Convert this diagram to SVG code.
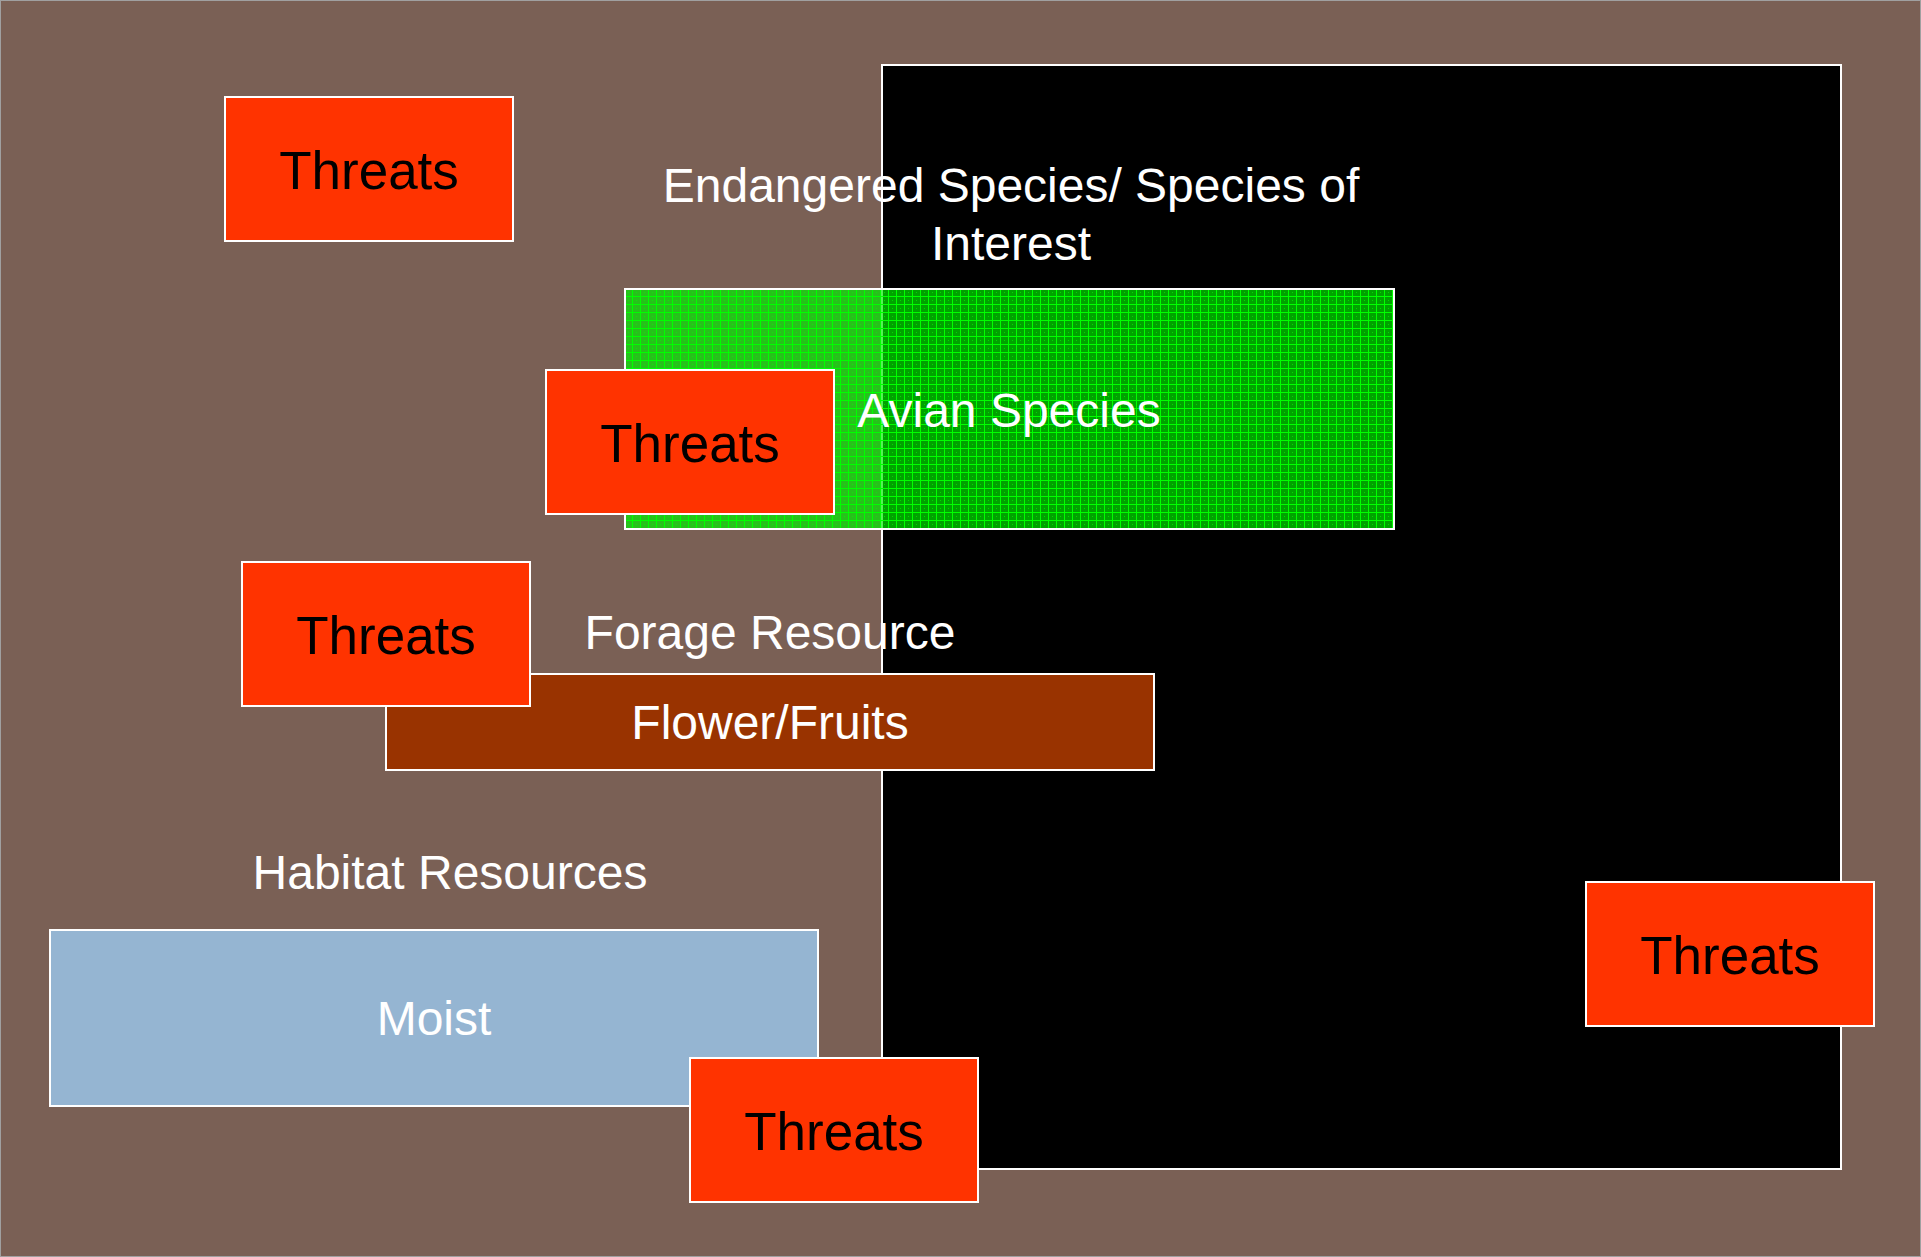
<svg xmlns="http://www.w3.org/2000/svg" width="1921" height="1257" viewBox="0 0 1921 1257">
  <style>
    .box { stroke: #ffffff; stroke-width: 2; }
    .threat { fill: #ff3300; }
    .threat-text { font-family: "Liberation Sans", Arial, sans-serif; font-size: 53px; fill: #000000; text-anchor: middle; }
    .label { font-family: "Liberation Sans", Arial, sans-serif; font-size: 48px; fill: #ffffff; text-anchor: middle; }
  </style>
  <defs>
    <pattern id="grid" width="8" height="8" patternUnits="userSpaceOnUse">
      <rect x="0" y="0" width="8" height="8" fill="#00ee00" fill-opacity="0.68"/>
      <rect x="0" y="0" width="8" height="1" fill="#00ff00"/>
      <rect x="0" y="0" width="1" height="8" fill="#00ff00"/>
      <rect x="4" y="4" width="1" height="1" fill="#00ff00" fill-opacity="0.6"/>
    </pattern>
  </defs>

  <rect id="background" x="0.5" y="0.5" width="1920" height="1256" fill="#7a6055" stroke="#a0a0a0" stroke-width="1"/>

  <g id="endangered-species">
    <rect class="box" x="882" y="65" width="959" height="1104" fill="#000000"/>
    <text class="label" x="1011" y="202">Endangered Species/ Species of</text>
    <text class="label" x="1011" y="260">Interest</text>
  </g>

  <g id="avian-species">
    <rect class="box" x="625" y="289" width="769" height="240" fill="url(#grid)"/>
    <text class="label" x="1009" y="427">Avian Species</text>
  </g>

  <g id="threats-1">
    <rect class="box threat" x="225" y="97" width="288" height="144"/>
    <text class="threat-text" x="369" y="189">Threats</text>
  </g>

  <g id="threats-2">
    <rect class="box threat" x="546" y="370" width="288" height="144"/>
    <text class="threat-text" x="690" y="462">Threats</text>
  </g>

  <g id="forage-resource">
    <text class="label" x="770" y="649">Forage Resource</text>
  </g>

  <g id="flower-fruits">
    <rect class="box" x="386" y="674" width="768" height="96" fill="#993300"/>
    <text class="label" x="770" y="739">Flower/Fruits</text>
  </g>

  <g id="threats-3">
    <rect class="box threat" x="242" y="562" width="288" height="144"/>
    <text class="threat-text" x="386" y="654">Threats</text>
  </g>

  <g id="habitat-resources">
    <text class="label" x="450" y="889">Habitat Resources</text>
  </g>

  <g id="moist">
    <rect class="box" x="50" y="930" width="768" height="176" fill="#95b5d2"/>
    <text class="label" x="434" y="1035">Moist</text>
  </g>

  <g id="threats-5">
    <rect class="box threat" x="690" y="1058" width="288" height="144"/>
    <text class="threat-text" x="834" y="1150">Threats</text>
  </g>

  <g id="threats-4">
    <rect class="box threat" x="1586" y="882" width="288" height="144"/>
    <text class="threat-text" x="1730" y="974">Threats</text>
  </g>

  <g id="connectors"></g>
</svg>
